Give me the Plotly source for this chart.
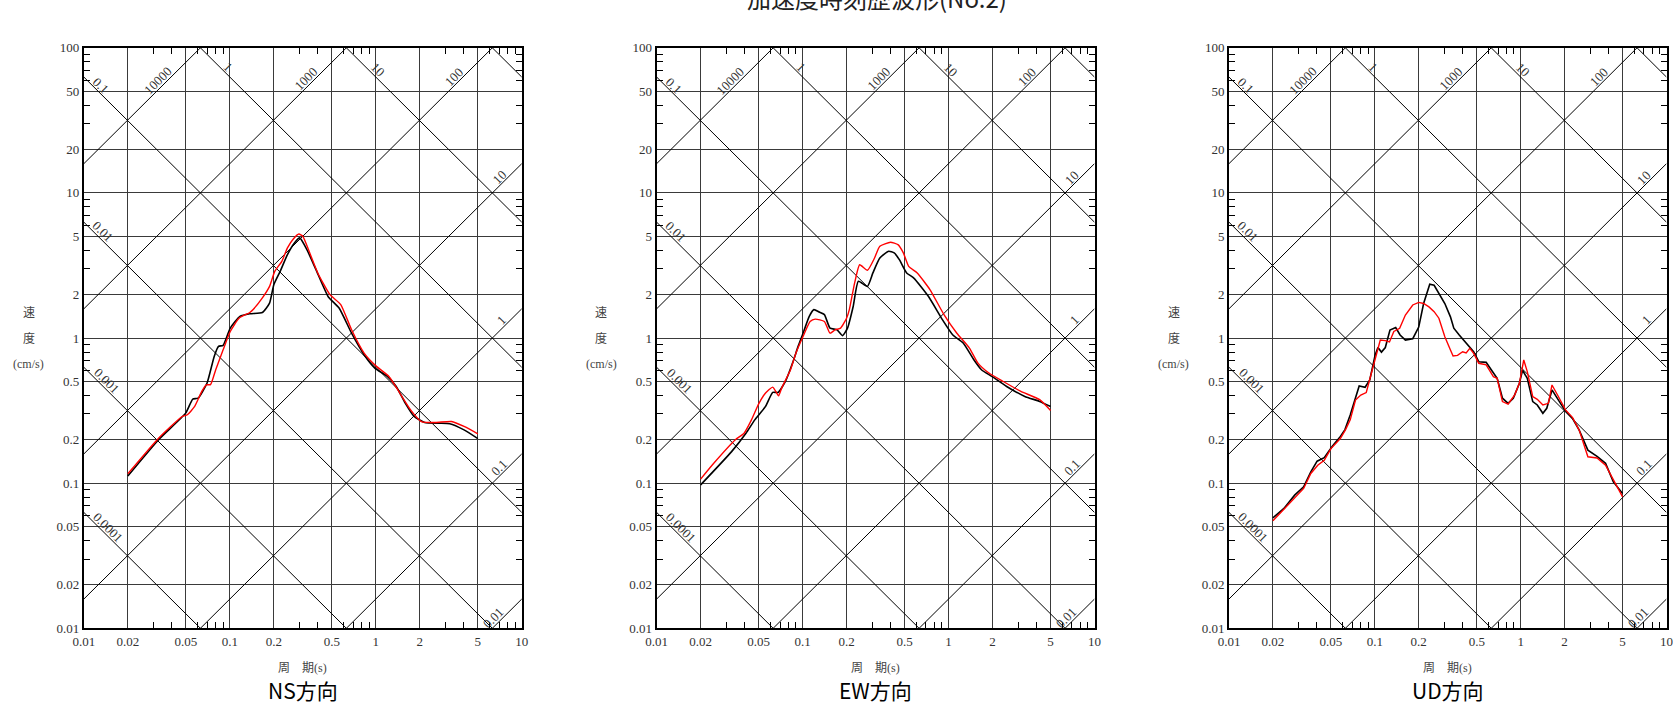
import numpy as np
import plotly.graph_objects as go

W, H = 1673, 704

# ---------------- data ----------------
ns_black_T = [0.02, 0.0326, 0.0498, 0.0557, 0.0606, 0.0698, 0.0781, 0.0836, 0.0899, 0.1006, 0.1172, 0.137, 0.167, 0.187, 0.2, 0.221, 0.248, 0.277, 0.301, 0.337, 0.389, 0.473, 0.56, 0.682, 0.831, 0.984, 1.2, 1.38, 1.59, 1.83, 2.16, 2.71, 3.21, 4.02, 5.0]
ns_black_V = [0.112, 0.2, 0.304, 0.38, 0.385, 0.49, 0.747, 0.876, 0.89, 1.17, 1.41, 1.47, 1.50, 1.74, 2.33, 2.88, 3.76, 4.52, 4.9, 4.07, 2.96, 1.92, 1.61, 1.08, 0.767, 0.621, 0.544, 0.464, 0.356, 0.288, 0.262, 0.259, 0.257, 0.233, 0.203]
ns_red_T = [0.02, 0.0326, 0.0471, 0.0511, 0.0574, 0.0642, 0.069, 0.0737, 0.08, 0.0899, 0.1006, 0.1156, 0.137, 0.145, 0.167, 0.187, 0.203, 0.227, 0.248, 0.272, 0.297, 0.316, 0.349, 0.4, 0.485, 0.575, 0.682, 0.831, 1.01, 1.23, 1.46, 1.73, 2.05, 2.56, 3.3, 4.02, 5.0]
ns_red_V = [0.116, 0.205, 0.288, 0.296, 0.338, 0.429, 0.476, 0.478, 0.605, 0.83, 1.11, 1.37, 1.50, 1.58, 1.89, 2.27, 2.88, 3.38, 4.18, 4.82, 5.21, 5.03, 3.96, 2.81, 1.99, 1.70, 1.14, 0.788, 0.638, 0.544, 0.418, 0.32, 0.266, 0.262, 0.266, 0.246, 0.219]

ew_black_T = [0.02, 0.0326, 0.0409, 0.047, 0.0557, 0.0624, 0.0679, 0.0762, 0.0853, 0.0931, 0.1017, 0.111, 0.1194, 0.13, 0.141, 0.154, 0.172, 0.188, 0.203, 0.222, 0.241, 0.278, 0.303, 0.338, 0.389, 0.424, 0.46, 0.516, 0.578, 0.727, 0.907, 1.07, 1.26, 1.49, 1.68, 1.98, 2.5, 3.33, 4.21, 5.0]
ew_black_V = [0.0974, 0.165, 0.221, 0.273, 0.338, 0.422, 0.422, 0.502, 0.672, 0.876, 1.11, 1.41, 1.57, 1.51, 1.45, 1.17, 1.14, 1.04, 1.17, 1.65, 2.46, 2.27, 2.81, 3.56, 3.96, 3.86, 3.47, 2.81, 2.59, 1.94, 1.34, 1.05, 0.925, 0.709, 0.605, 0.544, 0.464, 0.396, 0.366, 0.338]
ew_red_T = [0.02, 0.0246, 0.0346, 0.0397, 0.0446, 0.05, 0.0557, 0.0624, 0.0684, 0.0718, 0.0826, 0.09, 0.1017, 0.1125, 0.122, 0.141, 0.154, 0.167, 0.182, 0.2, 0.209, 0.227, 0.246, 0.278, 0.311, 0.338, 0.4, 0.45, 0.49, 0.533, 0.61, 0.747, 0.93, 1.14, 1.39, 1.59, 1.89, 2.37, 3.13, 4.21, 5.0]
ew_red_V = [0.1066, 0.137, 0.199, 0.221, 0.273, 0.352, 0.418, 0.459, 0.40, 0.452, 0.605, 0.788, 1.05, 1.30, 1.35, 1.30, 1.08, 1.14, 1.17, 1.37, 1.57, 2.39, 3.2, 2.93, 3.56, 4.29, 4.57, 4.4, 3.86, 3.12, 2.81, 2.15, 1.45, 1.08, 0.853, 0.672, 0.574, 0.502, 0.429, 0.376, 0.317]

ud_black_T = [0.02, 0.0238, 0.0282, 0.0325, 0.0364, 0.0402, 0.045, 0.0511, 0.0573, 0.0624, 0.0678, 0.0781, 0.0858, 0.0923, 0.1005, 0.105, 0.111, 0.118, 0.127, 0.139, 0.149, 0.162, 0.182, 0.2, 0.216, 0.238, 0.255, 0.275, 0.302, 0.33, 0.348, 0.379, 0.413, 0.436, 0.476, 0.516, 0.58, 0.63, 0.69, 0.75, 0.82, 0.89, 0.98, 1.03, 1.11, 1.21, 1.3, 1.42, 1.51, 1.64, 1.79, 2.0, 2.27, 2.52, 2.89, 3.34, 3.82, 4.32, 5.0]
ud_black_V = [0.0577, 0.067, 0.0827, 0.0943, 0.1197, 0.1417, 0.150, 0.1798, 0.206, 0.234, 0.295, 0.467, 0.458, 0.514, 0.764, 0.86, 0.80, 0.86, 1.135, 1.18, 1.05, 0.968, 0.99, 1.19, 1.73, 2.35, 2.31, 2.03, 1.73, 1.40, 1.17, 1.05, 0.944, 0.89, 0.805, 0.687, 0.68, 0.602, 0.528, 0.385, 0.355, 0.385, 0.488, 0.60, 0.528, 0.365, 0.346, 0.303, 0.328, 0.439, 0.385, 0.32, 0.279, 0.232, 0.169, 0.153, 0.137, 0.102, 0.085]
ud_red_T = [0.02, 0.0252, 0.0325, 0.0364, 0.0406, 0.045, 0.05, 0.058, 0.063, 0.0678, 0.0737, 0.0801, 0.0873, 0.094, 0.1005, 0.109, 0.118, 0.126, 0.135, 0.148, 0.162, 0.182, 0.2, 0.216, 0.235, 0.255, 0.275, 0.302, 0.33, 0.344, 0.369, 0.4, 0.423, 0.448, 0.476, 0.516, 0.58, 0.65, 0.69, 0.75, 0.82, 0.91, 0.98, 1.05, 1.11, 1.21, 1.3, 1.42, 1.55, 1.64, 1.79, 2.03, 2.27, 2.52, 2.89, 3.34, 3.82, 4.32, 5.0]
ud_red_V = [0.055, 0.0706, 0.092, 0.1166, 0.133, 0.1439, 0.173, 0.203, 0.234, 0.273, 0.374, 0.405, 0.421, 0.556, 0.706, 0.968, 0.96, 0.94, 1.11, 1.166, 1.44, 1.69, 1.76, 1.73, 1.64, 1.52, 1.37, 1.02, 0.827, 0.752, 0.76, 0.805, 0.79, 0.85, 0.785, 0.67, 0.653, 0.542, 0.528, 0.365, 0.35, 0.406, 0.488, 0.706, 0.587, 0.395, 0.378, 0.346, 0.355, 0.475, 0.405, 0.32, 0.283, 0.232, 0.152, 0.149, 0.133, 0.105, 0.0805]

panel_names = ["NS方向", "EW方向", "UD方向"]

x_tickvals = [0.01, 0.02, 0.05, 0.1, 0.2, 0.5, 1, 2, 5, 10]
x_ticktext = ["0.01", "0.02", "0.05", "0.1", "0.2", "0.5", "1", "2", "5", "10"]
y_tickvals = [0.01, 0.02, 0.05, 0.1, 0.2, 0.5, 1, 2, 5, 10, 20, 50, 100]
y_ticktext = ["0.01", "0.02", "0.05", "0.1", "0.2", "0.5", "1", "2", "5", "10", "20", "50", "100"]

accel_levels = [0.01, 0.1, 1, 10, 100, 1000, 10000]        # cm/s^2
disp_levels = [0.0001, 0.001, 0.01, 0.1, 1, 10, 100]        # cm
accel_labels = [("10000", 10000, 0.0346), ("1000", 1000, 0.358), ("100", 100, 3.71),
                ("10", 10, 7.5), ("1", 1, 7.84), ("0.1", 0.1, 7.5), ("0.01", 0.01, 6.89)]
disp_labels = [("0.1", 0.1, 0.01218), ("0.01", 0.01, 0.01253), ("0.001", 0.001, 0.01327),
               ("0.0001", 0.0001, 0.01364), ("1", 1, 0.0916), ("10", 10, 0.959)]

# ---------------- layout geometry (page pixels) ----------------
panel_x = [(83.9, 521.8), (656.7, 1094.5), (1229.0, 1666.5)]
panel_top, panel_bot = 47.8, 628.3

def px(x):
    return x / W

def py(y):
    return 1 - y / H

minor_vals_x = [m * 10.0 ** e for e in (-2, -1, 0) for m in (3, 4, 6, 7, 8, 9)]
minor_vals_y = [m * 10.0 ** e for e in (-2, -1, 0, 1) for m in (3, 4, 6, 7, 8, 9)]

serif = "Liberation Serif, Noto Sans CJK JP"
sans = "Noto Sans CJK JP, Noto Sans, sans-serif"
TWO_PI = 2 * np.pi

fig = go.Figure()
series = [(ns_black_T, ns_black_V, ns_red_T, ns_red_V, "spline"),
          (ew_black_T, ew_black_V, ew_red_T, ew_red_V, "spline"),
          (ud_black_T, ud_black_V, ud_red_T, ud_red_V, "linear")]

annotations = []
layout_axes = {}
lab_font = dict(family=serif, size=13, color="#333")
for i, (bT, bV, rT, rV, shape) in enumerate(series):
    sfx = "" if i == 0 else str(i + 1)
    xa, ya = "x" + sfx, "y" + sfx
    Tline = np.array([0.01, 10.0])
    for A in accel_levels:
        fig.add_trace(go.Scatter(x=Tline, y=A * Tline / TWO_PI, mode="lines",
                                 line=dict(color="black", width=1), xaxis=xa, yaxis=ya,
                                 hoverinfo="skip", showlegend=False))
    for D in disp_levels:
        fig.add_trace(go.Scatter(x=Tline, y=TWO_PI * D / Tline, mode="lines",
                                 line=dict(color="black", width=1), xaxis=xa, yaxis=ya,
                                 hoverinfo="skip", showlegend=False))
    fig.add_trace(go.Scatter(x=bT, y=bV, mode="lines",
                             line=dict(color="black", width=1.6, shape=shape, smoothing=0.5),
                             xaxis=xa, yaxis=ya, showlegend=False))
    fig.add_trace(go.Scatter(x=rT, y=rV, mode="lines",
                             line=dict(color="#ff0000", width=1.4, shape=shape, smoothing=0.5),
                             xaxis=xa, yaxis=ya, showlegend=False))

    x0, x1 = panel_x[i]
    common = dict(showgrid=True, gridcolor="#3a3a3a", gridwidth=1.4, zeroline=False,
                  showline=True, linecolor="black", linewidth=2, mirror="allticks", ticks="",
                  tickfont=dict(family=serif, size=13, color="#333"), automargin=False,
                  fixedrange=True, type="log", tickmode="array")
    layout_axes["xaxis" + sfx] = dict(
        range=[-2, 1], domain=[px(x0), px(x1)], anchor=ya,
        tickvals=x_tickvals, ticktext=x_ticktext,
        minor=dict(tickmode="array", tickvals=minor_vals_x, ticks="inside", ticklen=6,
                   tickwidth=1.3, tickcolor="black", showgrid=False), **common)
    layout_axes["yaxis" + sfx] = dict(
        range=[-2, 2], domain=[py(panel_bot), py(panel_top)], anchor=xa,
        tickvals=y_tickvals, ticktext=y_ticktext,
        minor=dict(tickmode="array", tickvals=minor_vals_y, ticks="inside", ticklen=6,
                   tickwidth=1.3, tickcolor="black", showgrid=False), **common)

    # diagonal labels
    for txt, A, T in accel_labels:
        V = A * T / TWO_PI
        annotations.append(dict(x=np.log10(T), y=np.log10(V), xref=xa, yref=ya, text=txt,
                                xanchor="center", yanchor="middle",
                                showarrow=False, textangle=-45, xshift=-4.5, yshift=4.5,
                                font=lab_font))
    for txt, D, T in disp_labels:
        V = TWO_PI * D / T
        annotations.append(dict(x=np.log10(T), y=np.log10(V), xref=xa, yref=ya, text=txt,
                                xanchor="center", yanchor="middle",
                                showarrow=False, textangle=45, xshift=4.5, yshift=4.5,
                                font=lab_font))
    # unit labels above frame
    annotations.append(dict(x=np.log10(0.0760), y=np.log10(143.8), xref=xa, yref=ya,
                            xanchor="center", yanchor="middle",
                            text="(cm/s<sup>2</sup>)", showarrow=False, textangle=-45,
                            font=lab_font))
    annotations.append(dict(x=np.log10(0.562), y=np.log10(133), xref=xa, yref=ya,
                            xanchor="center", yanchor="middle",
                            text="(cm)", showarrow=False, textangle=45, font=lab_font))
    annotations.append(dict(x=np.log10(6.59), y=np.log10(116.5), xref=xa, yref=ya,
                            xanchor="center", yanchor="middle",
                            text="(h=0.05)", showarrow=False, font=lab_font))
    # axis titles
    cx = (x0 + x1) / 2
    annotations.append(dict(x=px(cx), y=py(667.5), xref="paper", yref="paper",
                            xanchor="center", yanchor="middle",
                            text="周　期(s)", showarrow=False,
                            font=dict(family=serif, size=12, color="#444")))
    annotations.append(dict(x=px(cx), y=py(689.5), xref="paper", yref="paper",
                            xanchor="center", yanchor="middle", borderpad=0,
                            text=panel_names[i], showarrow=False,
                            font=dict(family=sans, size=21, color="black")))
    yl_x = x0 - 55.4
    for txt, yy in (("速", 313.3), ("度", 339.3), ("(cm/s)", 364.3)):
        annotations.append(dict(x=px(yl_x), y=py(yy), xref="paper", yref="paper",
                                xanchor="center", yanchor="middle",
                                text=txt, showarrow=False,
                                font=dict(family=serif, size=12, color="#444")))

annotations.append(dict(x=px(877), y=py(-3), xref="paper", yref="paper",
                        xanchor="center", yanchor="middle",
                        text="加速度時刻歴波形(No.2)", showarrow=False,
                        font=dict(family=sans, size=24, color="#222")))

fig.update_layout(width=W, height=H,
                  margin=dict(l=0, r=0, t=0, b=0, pad=0, autoexpand=False),
                  paper_bgcolor="white", plot_bgcolor="white",
                  annotations=annotations, showlegend=False, **layout_axes)

fig.write_html("out.html", config={"displayModeBar": False},
               post_script="document.body.style.margin='0px';")
